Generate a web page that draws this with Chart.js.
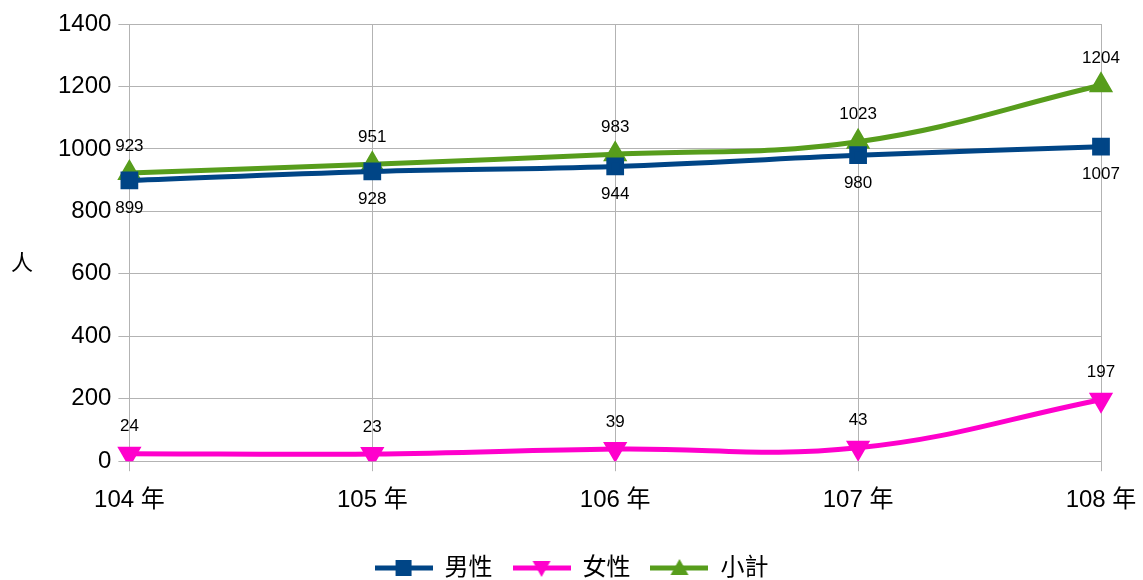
<!DOCTYPE html>
<html><head><meta charset="utf-8">
<script src="https://cdn.jsdelivr.net/npm/chart.js@4"></script>
<style>html,body{margin:0;padding:0;background:#fff}</style>
</head><body>
<canvas id="c" width="1143" height="580"></canvas>
<script>
const categories = ['104 年','105 年','106 年','107 年','108 年'];
const male = [899, 928, 944, 980, 1007];
const female = [24, 23, 39, 43, 197];
const total = [923, 951, 983, 1023, 1204];
const yTicks = [0, 200, 400, 600, 800, 1000, 1200, 1400];
const seriesNames = ['男性','女性','小計'];
const colors = ['#004586','#ff00cc','#579d1c'];
const styles = ['rect','triangle','triangle'];
const labelPos = ['below','above','above'];
const FONT = '"Liberation Sans", "Noto Sans CJK TC", sans-serif';

function legendIcon(color, style){
  const c = document.createElement('canvas');
  c.width = 58; c.height = 20;
  const g = c.getContext('2d');
  g.strokeStyle = color; g.lineWidth = 5;
  g.beginPath(); g.moveTo(0,10); g.lineTo(58,10); g.stroke();
  g.fillStyle = color;
  if(style==='rect'){ g.fillRect(21,2,16,16); }
  else if(style==='down'){ g.beginPath(); g.moveTo(20,3); g.lineTo(38,3); g.lineTo(29,19); g.closePath(); g.fill(); }
  else { g.beginPath(); g.moveTo(29,1); g.lineTo(38,17); g.lineTo(20,17); g.closePath(); g.fill(); }
  return c;
}
const icons = [legendIcon(colors[0],'rect'), legendIcon(colors[1],'down'), legendIcon(colors[2],'up')];

const dataLabels = {
  id:'dataLabels',
  afterDatasetsDraw(chart){
    const ctx = chart.ctx;
    ctx.save();
    ctx.font = '17px ' + FONT;
    ctx.fillStyle = '#000';
    ctx.textAlign = 'center';
    ctx.textBaseline = 'middle';
    chart.data.datasets.forEach((ds, i) => {
      const meta = chart.getDatasetMeta(i);
      meta.data.forEach((pt, j) => {
        const dy = labelPos[i]==='below' ? 28 : -27;
        ctx.fillText(String(ds.data[j]), pt.x, pt.y + dy);
      });
    });
    ctx.restore();
  }
};
const yTitle = {
  id:'yTitle',
  afterDraw(chart){
    const ctx = chart.ctx;
    ctx.save();
    ctx.font = '22px ' + FONT;
    ctx.fillStyle = '#000';
    ctx.textAlign = 'center';
    ctx.textBaseline = 'middle';
    ctx.fillText('人', 22, 264);
    ctx.restore();
  }
};

new Chart(document.getElementById('c'), {
  type:'line',
  data:{
    labels: categories,
    datasets: [male, female, total].map((d, i) => ({
      label: seriesNames[i],
      data: d,
      borderColor: colors[i],
      backgroundColor: colors[i],
      borderWidth: 5,
      pointStyle: styles[i],
      pointRotation: i===1 ? 180 : 0,
      pointRadius: 9,
      pointHoverRadius: 9,
      tension: 0.4,
      fill: false
    }))
  },
  options:{
    responsive:false,
    animation:false,
    layout:{padding:{left:0, right:0, top:0, bottom:-10}},
    plugins:{
      legend:{
        position:'bottom',
        labels:{
          font:{size:24, family:FONT},
          color:'#000',
          usePointStyle:true,
          pointStyleWidth:58,
          boxHeight:20,
          padding:20,
          generateLabels(chart){
            return chart.data.datasets.map((ds, i) => ({
              text: ds.label, pointStyle: icons[i], fillStyle: colors[i],
              strokeStyle: colors[i], lineWidth: 0, datasetIndex: i, hidden: false
            }));
          }
        }
      },
      tooltip:{enabled:false}
    },
    scales:{
      x:{
        offset:false,
        grid:{color:'#b3b3b3', lineWidth:1, tickLength:10, drawTicks:true},
        border:{color:'#b3b3b3'},
        ticks:{font:{size:24, family:FONT}, color:'#000', padding:15, maxRotation:0},
        afterFit(scale){ scale.height += 6; scale.paddingRight = 42; }
      },
      y:{
        min:0, max:1400,
        afterBuildTicks(scale){ scale.ticks = yTicks.map(v => ({value:v})); },
        grid:{color:'#b3b3b3', lineWidth:1, tickLength:11},
        border:{color:'#b3b3b3'},
        ticks:{font:{size:24, family:FONT}, color:'#000', padding:7, callback:(v)=>String(v)},
        afterFit(scale){ scale.paddingTop = 24; scale.width += 51; }
      }
    }
  },
  plugins:[dataLabels, yTitle]
});
</script>
</body></html>
